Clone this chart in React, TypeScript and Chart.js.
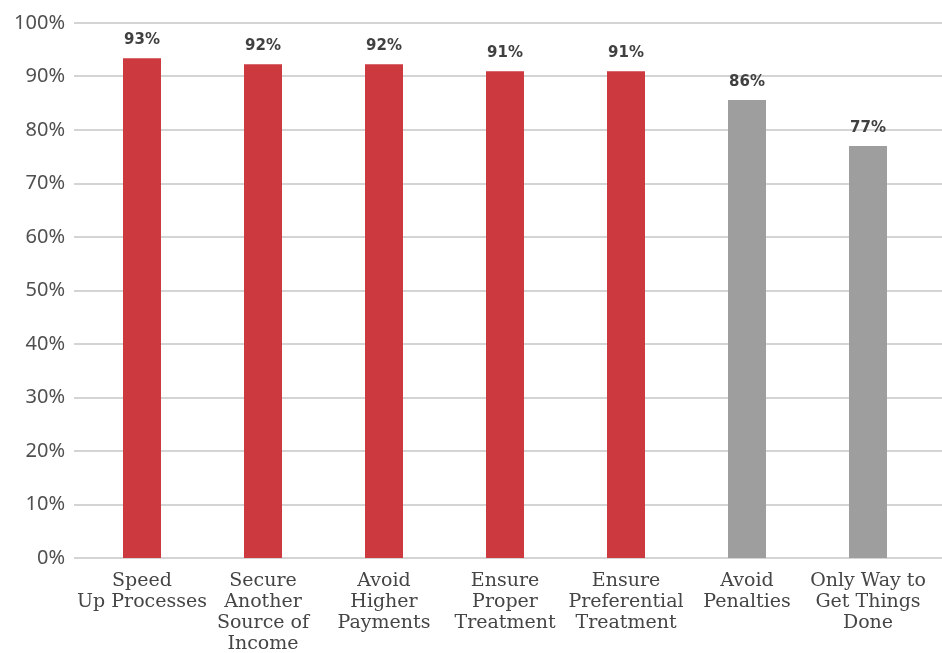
import React, { useEffect, useRef } from "react";
import { Chart, registerables } from "chart.js";

Chart.register(...registerables);

const categories: string[][] = [
  ["Speed", "Up Processes"],
  ["Secure", "Another", "Source of", "Income"],
  ["Avoid", "Higher", "Payments"],
  ["Ensure", "Proper", "Treatment"],
  ["Ensure", "Preferential", "Treatment"],
  ["Avoid", "Penalties"],
  ["Only Way to", "Get Things", "Done"],
];
const values: number[] = [93.4, 92.3, 92.3, 91.0, 91.0, 85.6, 77.0];
const barColors: string[] = ["#CC3A40", "#CC3A40", "#CC3A40", "#CC3A40", "#CC3A40", "#9E9E9E", "#9E9E9E"];
const yTicks: number[] = [0, 10, 20, 30, 40, 50, 60, 70, 80, 90, 100];

const gridPlugin = {
  id: "fullGrid",
  beforeDatasetsDraw(chart: any) {
    const { ctx } = chart;
    const y = chart.scales.y;
    ctx.save();
    ctx.strokeStyle = "#C6C6C6";
    ctx.lineWidth = 1.3;
    yTicks.forEach((t) => {
      const py = Math.round(y.getPixelForValue(t));
      ctx.beginPath();
      ctx.moveTo(74, py);
      ctx.lineTo(chart.width, py);
      ctx.stroke();
    });
    ctx.restore();
  },
};

const labelPlugin = {
  id: "barLabels",
  afterDatasetsDraw(chart: any) {
    const { ctx } = chart;
    const meta = chart.getDatasetMeta(0);
    ctx.save();
    ctx.font = "bold 15px 'DejaVu Sans'";
    ctx.fillStyle = "#404040";
    ctx.textAlign = "center";
    ctx.textBaseline = "middle";
    meta.data.forEach((bar: any, i: number) => {
      ctx.fillText(Math.round(values[i]) + "%", bar.x, bar.y - 18);
    });
    ctx.restore();
  },
};

export default function App() {
  const ref = useRef<HTMLCanvasElement>(null);
  useEffect(() => {
    const chart = new Chart(ref.current!, {
      type: "bar",
      data: {
        labels: categories,
        datasets: [
          {
            data: values,
            backgroundColor: barColors,
            barPercentage: 0.314,
            categoryPercentage: 1,
          },
        ],
      },
      options: {
        animation: false,
        responsive: false,
        layout: { padding: { top: 23, right: 13.5, left: 0, bottom: 0 } },
        plugins: { legend: { display: false }, tooltip: { enabled: false } },
        scales: {
          x: {
            grid: { display: false, drawTicks: false },
            border: { display: false },
            ticks: {
              padding: 12,
              maxRotation: 0,
              autoSkip: false,
              color: "#454545",
              font: { family: "'DejaVu Serif'", size: 19, lineHeight: 1.12 },
            },
            afterFit: (s: any) => {
              s.height = 95;
              s.paddingLeft = 0;
              s.paddingRight = 0;
            },
          },
          y: {
            min: 0,
            max: 100,
            grid: { display: false, drawTicks: false },
            border: { display: false },
            ticks: {
              stepSize: 10,
              padding: 16.5,
              color: "#505050",
              font: { family: "'Noto Sans'", size: 20 },
              callback: (v: any) => v + "%",
            },
            afterFit: (s: any) => {
              s.width = 81.5;
              s.paddingTop = 0;
              s.paddingBottom = 0;
            },
          },
        },
      },
      plugins: [gridPlugin, labelPlugin],
    });
    return () => chart.destroy();
  }, []);
  return (
    <div style={{ position: "absolute", left: 0, top: 0, width: 942, height: 653, background: "#fff" }}>
      <canvas ref={ref} width={942} height={653} />
    </div>
  );
}
